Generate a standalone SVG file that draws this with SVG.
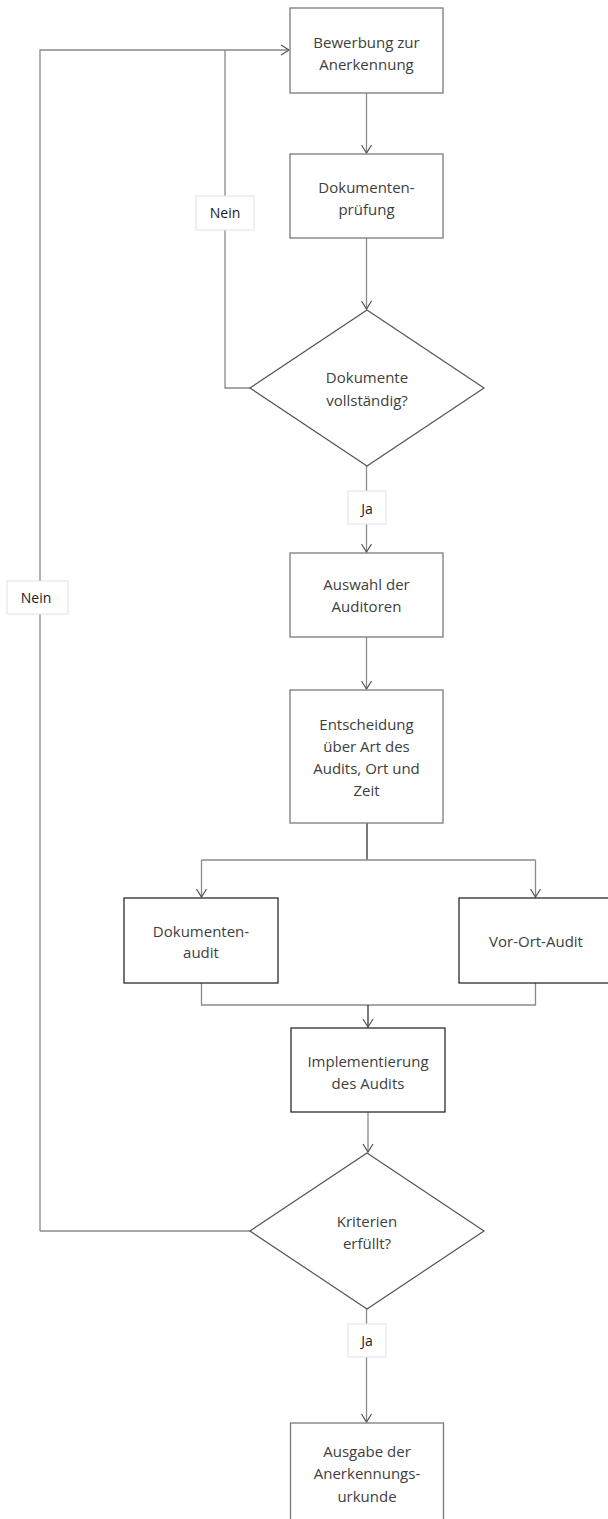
<svg xmlns="http://www.w3.org/2000/svg" width="608" height="1519" viewBox="0 0 608 1519">
<style>
.box{fill:#fff;stroke:#7a7a7a;stroke-width:1.3}
.dk{fill:#fff;stroke:#1a1a1a;stroke-width:1.2}
.dia{fill:#fff;stroke:#555;stroke-width:1.2}
.t{font-family:"Open Sans",sans-serif;font-size:15px;fill:#404040;text-anchor:middle}
.lbl{fill:#fff;stroke:#e2e2e2;stroke-width:1}
.lt{font-family:"Open Sans",sans-serif;font-size:14px;fill:#1a1a1a;text-anchor:middle}
.c{fill:none;stroke:#8a8a8a;stroke-width:1.3}
.cd{fill:none;stroke:#333;stroke-width:1.3}
</style>
<defs>
<marker id="a" markerWidth="12" markerHeight="12" refX="10" refY="6" orient="auto" markerUnits="userSpaceOnUse"><path d="M2,1 L10,6 L2,11" fill="none" stroke="#555" stroke-width="1.2"/></marker>
</defs>
<rect width="608" height="1519" fill="#fff"/>
<g id="connectors">
<path class="c" d="M366.5,93 V153" marker-end="url(#a)"/>
<path class="c" d="M366.5,238 V309" marker-end="url(#a)"/>
<path class="c" d="M250,388 H225 V50"/>
<path class="c" d="M40,1231 V50 H289" marker-end="url(#a)"/>
<path class="c" d="M366.5,466 V552" marker-end="url(#a)"/>
<path class="c" d="M366.5,637 V689" marker-end="url(#a)"/>
<path class="cd" d="M367,823 V860"/>
<path class="c" d="M201.5,860 H535.5"/>
<path class="c" d="M201.5,860 V897" marker-end="url(#a)"/>
<path class="c" d="M535.5,860 V897" marker-end="url(#a)"/>
<path class="c" d="M201.5,983 V1005 H535.5 V983"/>
<path class="cd" d="M368,1005 V1027" marker-end="url(#a)"/>
<path class="c" d="M368,1112 V1152" marker-end="url(#a)"/>
<path class="c" d="M250,1231 H40"/>
<path class="c" d="M366.5,1309 V1422" marker-end="url(#a)"/>
</g>
<g id="n1"><rect class="box" x="290" y="8" width="153" height="85"/><text class="t" x="366.5" y="48">Bewerbung zur</text><text class="t" x="366.5" y="70">Anerkennung</text></g>
<g id="n2"><rect class="box" x="290" y="154" width="153" height="84"/><text class="t" x="366.5" y="193">Dokumenten-</text><text class="t" x="366.5" y="215">prüfung</text></g>
<g id="n3"><polygon class="dia" points="367,310 484,388 367,466 250,388"/><text class="t" x="367" y="383">Dokumente</text><text class="t" x="367" y="406">vollständig?</text></g>
<g id="n4"><rect class="box" x="290" y="553" width="153" height="84"/><text class="t" x="366.5" y="590">Auswahl der</text><text class="t" x="366.5" y="612">Auditoren</text></g>
<g id="n5"><rect class="box" x="290" y="690" width="153" height="133"/><text class="t" x="366.5" y="730">Entscheidung</text><text class="t" x="366.5" y="752">über Art des</text><text class="t" x="366.5" y="774">Audits, Ort und</text><text class="t" x="366.5" y="796">Zeit</text></g>
<g id="n6"><rect class="dk" x="124" y="898" width="154" height="85"/><text class="t" x="201" y="937">Dokumenten-</text><text class="t" x="201" y="958">audit</text></g>
<g id="n7"><rect class="dk" x="459" y="898" width="154" height="85"/><text class="t" x="536" y="947">Vor-Ort-Audit</text></g>
<g id="n8"><rect class="dk" x="291" y="1028" width="154" height="84"/><text class="t" x="368" y="1067">Implementierung</text><text class="t" x="368" y="1089">des Audits</text></g>
<g id="n9"><polygon class="dia" points="367,1153 484,1231 367,1309 250,1231"/><text class="t" x="367" y="1227">Kriterien</text><text class="t" x="367" y="1249">erfüllt?</text></g>
<g id="n10"><rect class="box" x="290.5" y="1423" width="153" height="110"/><text class="t" x="367" y="1457">Ausgabe der</text><text class="t" x="367" y="1479">Anerkennungs-</text><text class="t" x="367" y="1502">urkunde</text></g>
<g id="labels">
<g id="l1"><rect class="lbl" x="196" y="196" width="58" height="34"/><text class="lt" x="225" y="218">Nein</text></g>
<g id="l2"><rect class="lbl" x="7" y="581" width="61" height="33"/><text class="lt" x="36" y="603">Nein</text></g>
<g id="l3"><rect class="lbl" x="348" y="491" width="38" height="33"/><text class="lt" x="367" y="514">Ja</text></g>
<g id="l4"><rect class="lbl" x="348" y="1324" width="38" height="33"/><text class="lt" x="367" y="1346">Ja</text></g>
</g>
</svg>
